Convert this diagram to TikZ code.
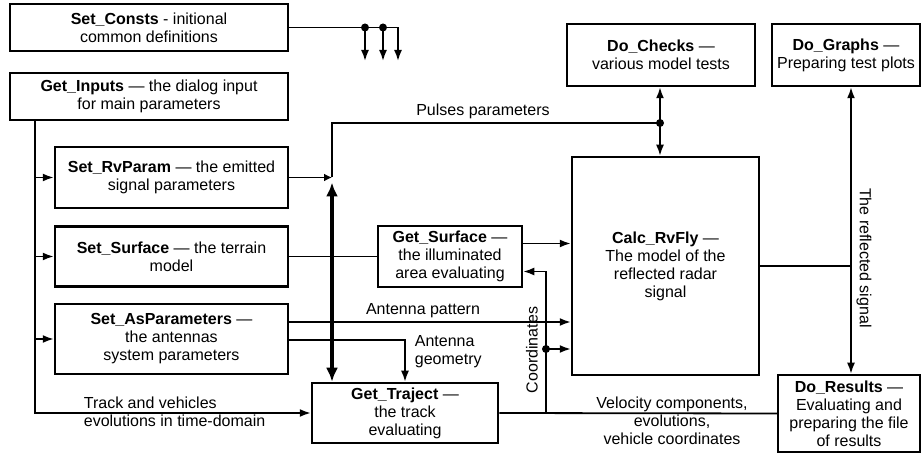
\documentclass[tikz,border=0pt]{standalone}
\usepackage{fontspec}
\setmainfont{Liberation Sans}
\usetikzlibrary{arrows.meta, positioning, calc}

\begin{document}
\begin{tikzpicture}[x=1pt, y=-1pt, line width=1.8pt,
  >={Latex[length=11pt,width=8pt]},
  blk/.style={draw, line width=2.5pt, inner sep=0pt, align=center, font=\fontsize{16}{18}\selectfont},
  lbl/.style={inner sep=0pt, font=\fontsize{16}{18}\selectfont},
  thickarr/.style={line width=4.5pt, {Latex[length=14pt,width=12pt]}-{Latex[length=14pt,width=12pt]}},
  dot/.style={circle, fill, inner sep=0pt, minimum size=8pt}]
\useasboundingbox (0,0) rectangle (922,457);

% blocks
\node[blk, minimum width=278pt, minimum height=47pt] (consts) at (149,27.5) {\textbf{Set\_Consts} - initional\\common definitions};
\node[blk, minimum width=278pt, minimum height=47pt] (inputs) at (149,96.5) {\textbf{Get\_Inputs} — the dialog input\\for main parameters};
\node[blk, minimum width=233pt, minimum height=61pt] (rvparam) at (171.5,177.5) {\textbf{Set\_RvParam} — the emitted\\signal parameters};
\node[blk, minimum width=233pt, minimum height=60pt] (setsurf) at (171.5,256.5) {\textbf{Set\_Surface} — the terrain\\model};
\node[blk, minimum width=233pt, minimum height=70pt] (aspar) at (171.5,339) {\textbf{Set\_AsParameters} —\\the antennas\\system parameters};
\node[blk, minimum width=186pt, minimum height=60pt] (traject) at (405,413) {\textbf{Get\_Traject} —\\the track\\evaluating};
\node[blk, minimum width=144pt, minimum height=61pt] (getsurf) at (450,256.5) {\textbf{Get\_Surface} —\\the illuminated\\area evaluating};
\node[blk, minimum width=187pt, minimum height=218pt] (calc) at (665.5,266) {\textbf{Calc\_RvFly} —\\The model of the\\reflected radar\\signal};
\node[blk, minimum width=188pt, minimum height=62pt] (checks) at (661,55) {\textbf{Do\_Checks} —\\various model tests};
\node[blk, minimum width=148pt, minimum height=62pt] (graphs) at (846,55) {\textbf{Do\_Graphs} —\\Preparing test plots};
\node[blk, minimum width=142pt, minimum height=77pt] (results) at (849,413.5) {\textbf{Do\_Results} —\\Evaluating and\\preparing the file\\of results};

% junctions
\coordinate (c1) at (365,27.5);
\coordinate (c2) at (383,27.5);
\coordinate (c3) at (398,27.5);
\coordinate (e1) at (365,61);
\coordinate (e2) at (383,61);
\coordinate (e3) at (398,61);
\coordinate (j0) at (35,413);
\coordinate (pj) at (332,177.5);
\coordinate (pd) at (660,123);
\coordinate (cj) at (546,413);
\coordinate (cd) at (546,349);
\coordinate (rj) at (851,266);

% Set_Consts outputs
\draw (consts.east) -- (c3);
\draw[->] (c1) -- (e1);
\draw[->] (c2) -- (e2);
\draw[->] (c3) -- (e3);
\node[dot] at (c1) {};
\node[dot] at (c2) {};

% Get_Inputs distribution
\draw[->] (inputs.south -| j0) -- (j0) -- (traject.west);
\draw[->] (j0 |- rvparam.west) -- (rvparam.west);
\draw[->] (j0 |- setsurf.west) -- (setsurf.west);
\draw[->] (j0 |- aspar.west) -- (aspar.west);

% pulses parameters
\draw[-{Latex[length=8pt,width=8pt]}] (rvparam.east) -- (pj);
\draw (pj) |- (pd);
\node[dot] at (pd) {};
\draw[<->] (checks.south -| pd) -- (calc.north -| pd);
\draw[thickarr] ([yshift=-5pt]pj) -- (traject.north -| pj);

% surface
\draw (setsurf.east) -- (getsurf.west);
\draw[->] ([yshift=13pt]getsurf.east) -- ([yshift=13pt]getsurf.east -| calc.west);

% antennas
\draw[->] ([yshift=17pt]aspar.east) -- ([yshift=17pt]aspar.east -| calc.west);
\draw[->] ([yshift=-1pt]aspar.east) -| (traject.north);

% trajectory
\draw (traject.east) -- (results.west);
\draw[->] (cj) |- ([yshift=-15pt]getsurf.east);
\node[dot] at (cd) {};
\draw[->] (cd) -- (cd -| calc.west);

% reflected signal
\draw (calc.east) -- (rj);
\draw[<->] (graphs.south -| rj) -- (results.north -| rj);

% labels
\node[lbl] (pulses) at (483,111) {Pulses parameters};
\node[lbl, align=left, anchor=west] (track) at (83,412) {Track and vehicles\\evolutions in time-domain};
\node[lbl] (pattern) at (423,311) {Antenna pattern};
\node[lbl, align=left, anchor=west] (geom) at (414,352) {Antenna\\geometry};
\node[lbl, rotate=90] (coords) at (532,350) {Coordinates};
\node[lbl, align=center] (velo) at (672,421) {Velocity components,\\evolutions,\\vehicle coordinates};
\node[lbl, rotate=-90] (refl) at (864,258) {The reflected signal};
\end{tikzpicture}
\end{document}
